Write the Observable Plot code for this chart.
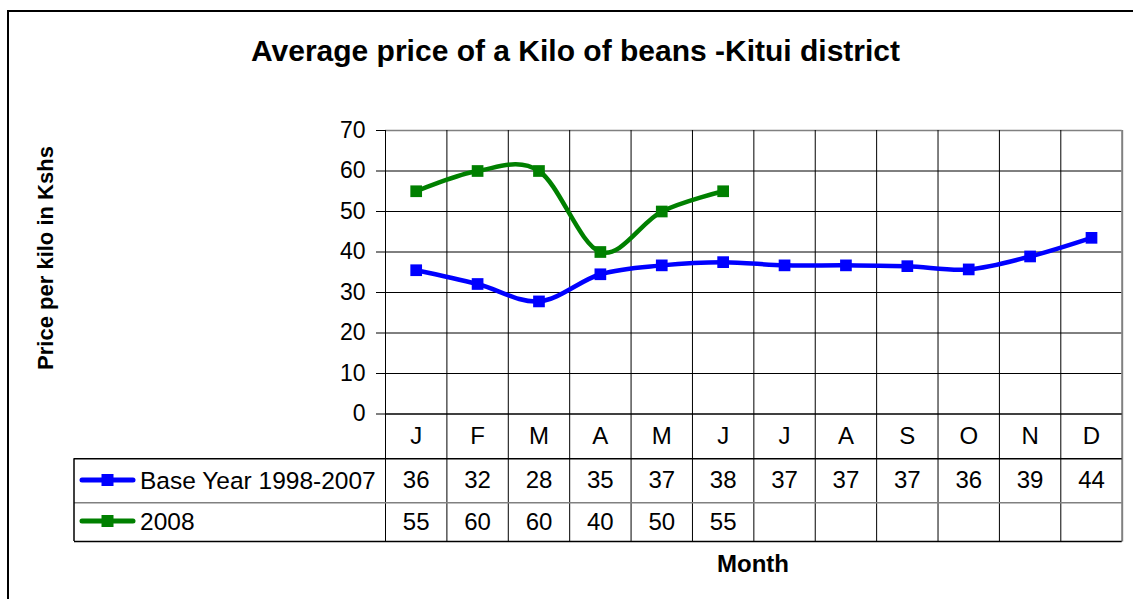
<!DOCTYPE html>
<html><head><meta charset="utf-8">
<script src="https://cdn.jsdelivr.net/npm/d3@7"></script>
<script src="https://cdn.jsdelivr.net/npm/@observablehq/plot@0.6"></script>
<style>body{margin:0;background:#fff} svg{display:block}</style>
</head><body><div id="chart"></div>
<script>
const months = ["J","F","M","A","M","J","J","A","S","O","N","D"];
const baseValues = [35.5, 32.1, 27.8, 34.5, 36.7, 37.5, 36.7, 36.7, 36.5, 35.7, 38.9, 43.5];
const baseLabels = ["36","32","28","35","37","38","37","37","37","36","39","44"];
const values2008 = [55, 60, 60, 40, 50, 55];
const labels2008 = ["55","60","60","40","50","55"];
const yTicks = [0, 10, 20, 30, 40, 50, 60, 70];
const seriesNames = ["Base Year 1998-2007", "2008"];
const seriesColors = ["#0000ff", "#008000"];
const titleText = "Average price of a Kilo of beans -Kitui district";
const yLabel = "Price per kilo in Kshs";
const xLabel = "Month";

const idx = d3.range(months.length);
const idx08 = d3.range(values2008.length);
const base = idx.map(i => ({i, v: baseValues[i]}));
const y08 = idx08.map(i => ({i, v: values2008[i]}));
const bounds = d3.range(months.length + 1).map(k => k - 0.5);
const font = "'Liberation Sans', Arial, sans-serif";

const plot = Plot.plot({
  width: 1133, height: 599,
  marginLeft: 385, marginRight: 11.3, marginTop: 130, marginBottom: 185.5,
  x: {domain: [-0.5, months.length - 0.5], axis: null},
  y: {domain: [0, 70], axis: null},
  style: {fontFamily: font, background: "white", overflow: "visible", color: "#000"},
  marks: [
    // horizontal gridlines
    Plot.ruleY(yTicks.filter(t => t > 0 && t < 70), {stroke: "#000", strokeWidth: 1, strokeOpacity: 1}),
    Plot.ruleY([70], {stroke: "#808080", strokeWidth: 1.5}),
    // y tick marks
    Plot.ruleY(yTicks, {stroke: "#000", strokeWidth: 1, insetLeft: -9, insetRight: 736.7}),
    // vertical gridlines extending through the data table
    Plot.ruleX(bounds.slice(1, -1), {stroke: "#000", strokeWidth: 1, insetBottom: -128}),
    Plot.ruleX([bounds[bounds.length - 1]], {stroke: "#808080", strokeWidth: 2, insetBottom: -128}),
    Plot.ruleX([bounds[0]], {stroke: "#000", strokeWidth: 1, insetBottom: -128}),
    // x axis line / table top
    Plot.ruleY([0], {stroke: "#000", strokeWidth: 1.5}),
    // table row lines
    Plot.ruleY([0], {dy: 44.8, stroke: "#000", strokeWidth: 1.5, insetLeft: -311}),
    Plot.ruleY([0], {dy: 88.8, stroke: "#808080", strokeWidth: 1.5, insetLeft: -311}),
    Plot.ruleY([0], {dy: 127.5, stroke: "#000", strokeWidth: 1.5, insetLeft: -311}),
    // y tick labels
    Plot.text(yTicks, {x: -0.5, y: d => d, text: d => String(d), dx: -20, textAnchor: "end", fontSize: 23, fill: "#000"}),
    // series
    Plot.line(base, {x: "i", y: "v", stroke: seriesColors[0], strokeWidth: 4.5, curve: "cardinal"}),
    Plot.dot(base, {x: "i", y: "v", symbol: "square", r: 6.6, fill: seriesColors[0], stroke: "none"}),
    Plot.line(y08, {x: "i", y: "v", stroke: seriesColors[1], strokeWidth: 4.5, curve: "cardinal"}),
    Plot.dot(y08, {x: "i", y: "v", symbol: "square", r: 6.6, fill: seriesColors[1], stroke: "none"}),
    // data table text
    Plot.text(idx, {x: d => d, y: 0, text: d => months[d], dy: 22.5, fontSize: 24, fill: "#000"}),
    Plot.text(idx, {x: d => d, y: 0, text: d => baseLabels[d], dy: 66.5, fontSize: 24, fill: "#000"}),
    Plot.text(idx08, {x: d => d, y: 0, text: d => labels2008[d], dy: 108, fontSize: 24, fill: "#000"})
  ]
});

const svg = d3.select(plot);
// outer border
svg.append("rect").attr("x", 8).attr("y", 11).attr("width", 1140).attr("height", 620)
  .attr("fill", "none").attr("stroke", "#000").attr("stroke-width", 2);
// title
svg.append("text").attr("x", 575.5).attr("y", 61).attr("text-anchor", "middle")
  .attr("font-family", font).attr("font-weight", "bold").attr("font-size", 30).attr("fill", "#000")
  .text(titleText);
// y label
svg.append("text").attr("transform", "translate(53,258) rotate(-90)").attr("text-anchor", "middle")
  .attr("font-family", font).attr("font-weight", "bold").attr("font-size", 22).attr("fill", "#000")
  .text(yLabel);
// x label
svg.append("text").attr("x", 753).attr("y", 572).attr("text-anchor", "middle")
  .attr("font-family", font).attr("font-weight", "bold").attr("font-size", 24).attr("fill", "#000")
  .text(xLabel);
// legend cells left border
svg.append("line").attr("x1", 74).attr("x2", 74).attr("y1", 458.3).attr("y2", 541)
  .attr("stroke", "#000").attr("stroke-width", 1.5);
// legend keys
const rowsY = [480, 521];
seriesNames.forEach((name, k) => {
  const g = svg.append("g");
  g.append("line").attr("x1", 82).attr("x2", 133).attr("y1", rowsY[k]).attr("y2", rowsY[k])
    .attr("stroke", seriesColors[k]).attr("stroke-width", 5).attr("stroke-linecap", "round");
  g.append("rect").attr("x", 101.5).attr("y", rowsY[k] - 6).attr("width", 12).attr("height", 12)
    .attr("fill", seriesColors[k]);
  g.append("text").attr("x", 140).attr("y", rowsY[k]).attr("dy", "0.35em").attr("text-anchor", "start")
    .attr("font-family", font).attr("font-size", 24.5).attr("fill", "#000").text(name);
});
document.getElementById("chart").appendChild(plot);
</script>
</body></html>
